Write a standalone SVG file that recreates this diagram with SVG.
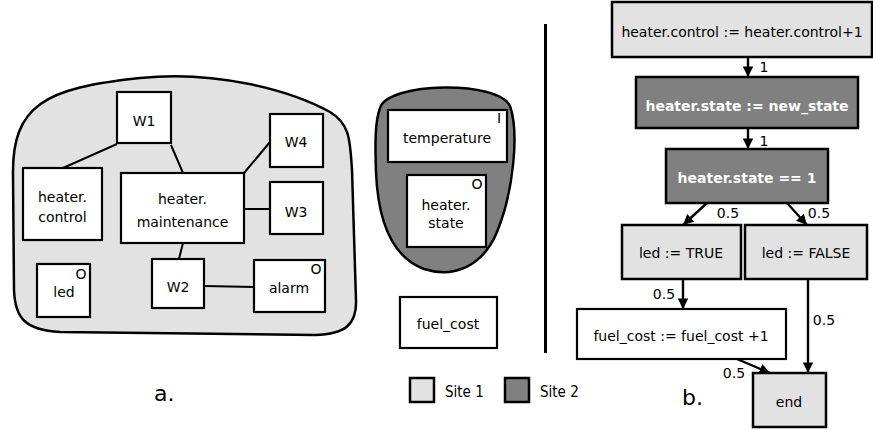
<svg xmlns="http://www.w3.org/2000/svg" width="873" height="430" viewBox="0 0 873 430">
<defs>
<marker id="ah" viewBox="0 0 10 10" refX="10" refY="5" markerWidth="4.4" markerHeight="4.4" markerUnits="strokeWidth" orient="auto">
<path d="M0,0 L10,5 L0,10 Z" fill="#000"/>
</marker>
<style>
text{font-family:"DejaVu Sans",Verdana,sans-serif;font-size:14px;fill:#000;text-anchor:middle}
.n{fill:#fff;stroke:#000;stroke-width:2.2}
.s1{fill:#e2e2e2;stroke:#000;stroke-width:2.5}
.s2{fill:#808080;stroke:#000;stroke-width:2.5}
.ln{stroke:#000;stroke-width:2;fill:none}
.ar{stroke:#000;stroke-width:2.4;fill:none;marker-end:url(#ah)}
.w{fill:#fff;font-weight:bold}
.lab{font-size:14px}
.cap{font-size:22px;text-anchor:start}
.lg{font-family:"DejaVu Sans Condensed","DejaVu Sans",sans-serif;font-size:15px;text-anchor:start}
</style>
</defs>
<rect width="873" height="430" fill="#fff"/>

<g id="site1">
<path class="s1" d="M13,175 C12,105 45,88 140,78 C215,70 290,90 330,112 C350,124 350,140 352,170 L356,300 C357,325 345,334 315,335 L60,332 C25,330 15,318 14,290 Z"/>
</g>
<g id="site2">
<path class="s2" d="M380,108 C388,82 498,80 510,106 C519,132 514,190 497,232 C482,268 452,278 424,269 C392,257 378,222 376,172 C375,142 375,122 380,108 Z"/>
</g>

<g id="connectors-a">
<line class="ln" x1="117" y1="144" x2="63" y2="168"/>
<line class="ln" x1="171" y1="145" x2="183" y2="173"/>
<line class="ln" x1="270" y1="142" x2="244" y2="173"/>
<line class="ln" x1="244" y1="209" x2="270" y2="209"/>
<line class="ln" x1="183" y1="243" x2="179" y2="259"/>
<line class="ln" x1="204" y1="286" x2="254" y2="287"/>
</g>

<g id="W1"><rect class="n" x="117" y="92" width="54" height="51"/><text x="144" y="126">W1</text></g>
<g id="W4"><rect class="n" x="270" y="114" width="53" height="53"/><text x="296" y="147">W4</text></g>
<g id="heater-control"><rect class="n" x="23" y="168" width="79" height="72"/><text x="62.5" y="202">heater.</text><text x="62.5" y="222">control</text></g>
<g id="heater-maintenance"><rect class="n" x="121" y="173" width="123" height="70"/><text x="182.5" y="204">heater.</text><text x="182.5" y="227">maintenance</text></g>
<g id="W3"><rect class="n" x="270" y="182" width="53" height="52"/><text x="296" y="217">W3</text></g>
<g id="led"><rect class="n" x="37" y="264" width="53" height="53"/><text x="64" y="297">led</text><text x="81" y="279">O</text></g>
<g id="W2"><rect class="n" x="152" y="259" width="52" height="49"/><text x="178" y="292">W2</text></g>
<g id="alarm"><rect class="n" x="254" y="260" width="71" height="52"/><text x="289" y="293">alarm</text><text x="316" y="274">O</text></g>

<g id="temperature"><rect class="n" x="388" y="110" width="119" height="52"/><text x="447" y="143">temperature</text><text x="499" y="123">I</text></g>
<g id="heater-state"><rect class="n" x="407" y="175" width="79" height="72"/><text x="446" y="210">heater.</text><text x="446" y="228">state</text><text x="477" y="189">O</text></g>
<g id="fuel_cost"><rect class="n" x="400" y="297" width="97" height="51"/><text x="448" y="329">fuel_cost</text></g>

<line x1="545.5" y1="24" x2="545.5" y2="353" stroke="#000" stroke-width="3"/>

<g id="legend">
<rect class="s1" x="410" y="378" width="24" height="24"/>
<text class="lg" x="445" y="397">Site 1</text>
<rect class="s2" x="505" y="378" width="24" height="24"/>
<text class="lg" x="540" y="397">Site 2</text>
</g>
<text class="cap" x="154" y="401">a.</text>
<text class="cap" x="682" y="405">b.</text>

<g id="connectors-b">
<line class="ar" x1="748" y1="57" x2="748" y2="77"/>
<line class="ar" x1="748" y1="128" x2="748" y2="149"/>
<line class="ar" x1="707" y1="203" x2="683" y2="225"/>
<line class="ar" x1="787" y1="203" x2="807" y2="225"/>
<line class="ar" x1="683" y1="279" x2="683" y2="309"/>
<line class="ar" x1="808" y1="279" x2="808" y2="373"/>
<line class="ar" x1="737" y1="359" x2="770" y2="373"/>
<text class="lab" x="764" y="72">1</text>
<text class="lab" x="764" y="146">1</text>
<text class="lab" x="728" y="218">0.5</text>
<text class="lab" x="819" y="218">0.5</text>
<text class="lab" x="664" y="299">0.5</text>
<text class="lab" x="824" y="325">0.5</text>
<text class="lab" x="734" y="378">0.5</text>
</g>

<g id="f1"><rect class="s1" x="612" y="2" width="260" height="55" stroke-width="2.2"/><text x="742" y="37">heater.control := heater.control+1</text></g>
<g id="f2"><rect class="s2" x="636" y="77" width="222" height="51" stroke-width="2.2"/><text class="w" x="747" y="111">heater.state := new_state</text></g>
<g id="f3"><rect class="s2" x="666" y="149" width="162" height="54" stroke-width="2.2"/><text class="w" x="747" y="183">heater.state == 1</text></g>
<g id="f4"><rect class="s1" x="622" y="225" width="119" height="54" stroke-width="2.2"/><text x="681" y="258">led := TRUE</text></g>
<g id="f5"><rect class="s1" x="745" y="225" width="122" height="54" stroke-width="2.2"/><text x="806" y="258">led := FALSE</text></g>
<g id="f6"><rect class="n" x="577" y="309" width="209" height="50"/><text x="681" y="341">fuel_cost := fuel_cost +1</text></g>
<g id="f7"><rect class="s1" x="753" y="373" width="73" height="54" stroke-width="2.2"/><text x="789" y="407">end</text></g>
</svg>
